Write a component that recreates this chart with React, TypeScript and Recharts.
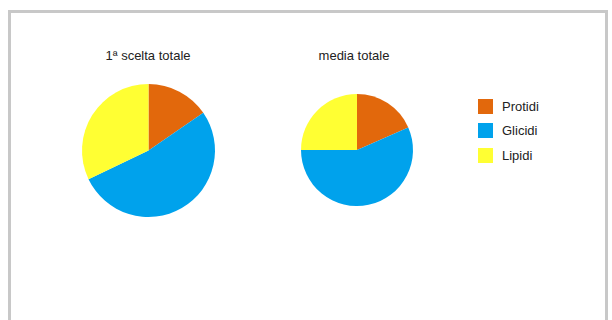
import React from "react";
import { PieChart, Pie, Cell, Legend } from "recharts";

const categories = ["Protidi", "Glicidi", "Lipidi"];
const colors = ["#E2680C", "#00A2EC", "#FFFF33"];
const primaSceltaValues = [15.4, 52.5, 32.1];
const mediaValues = [18.4, 56.6, 25.0];
const titles = ["1ª scelta totale", "media totale"];

const data1 = categories.map((name, i) => ({ name, value: primaSceltaValues[i] }));
const data2 = categories.map((name, i) => ({ name, value: mediaValues[i] }));

const FONT = "'Liberation Sans', Arial, sans-serif";

const LegendContent = () => (
  <div style={{ fontFamily: FONT, fontSize: 13, color: "#222" }}>
    {categories.map((c, i) => (
      <div key={c} style={{ display: "flex", alignItems: "center", height: 15, marginBottom: i < categories.length - 1 ? 9.3 : 0 }}>
        <div style={{ width: 15, height: 15, background: colors[i], marginRight: 9 }} />
        <span style={{ lineHeight: "15px" }}>{c}</span>
      </div>
    ))}
  </div>
);

export default function App() {
  return (
    <div style={{ position: "absolute", left: 0, top: 0, width: 612, height: 320, background: "#fff", overflow: "hidden" }}>
      <div
        style={{
          position: "absolute",
          left: 8,
          top: 10,
          width: 594,
          height: 400,
          borderLeft: "3px solid #c8c8c8",
          borderTop: "3px solid #c8c8c8",
          borderRight: "3px solid #c8c8c8",
        }}
      />
      <div style={{ position: "absolute", left: 0, top: 0 }}>
        <PieChart width={612} height={320} margin={{ top: 0, right: 0, bottom: 0, left: 0 }}>
          <text x={148} y={60} textAnchor="middle" fontFamily={FONT} fontSize={13} fill="#222">
            {titles[0]}
          </text>
          <text x={354} y={60} textAnchor="middle" fontFamily={FONT} fontSize={13} fill="#222">
            {titles[1]}
          </text>
          <Pie
            data={data1}
            dataKey="value"
            nameKey="name"
            cx={148.5}
            cy={150.5}
            outerRadius={66.5}
            startAngle={90}
            endAngle={-270}
            stroke="none"
            isAnimationActive={false}
          >
            {data1.map((d, i) => (
              <Cell key={d.name} fill={colors[i]} />
            ))}
          </Pie>
          <Pie
            data={data2}
            dataKey="value"
            nameKey="name"
            cx={357}
            cy={150}
            outerRadius={56}
            startAngle={90}
            endAngle={-270}
            stroke="none"
            isAnimationActive={false}
          >
            {data2.map((d, i) => (
              <Cell key={d.name} fill={colors[i]} />
            ))}
          </Pie>
          <Legend
            content={<LegendContent />}
            wrapperStyle={{ position: "absolute", left: 478, top: 99, width: 100 }}
          />
        </PieChart>
      </div>
    </div>
  );
}
